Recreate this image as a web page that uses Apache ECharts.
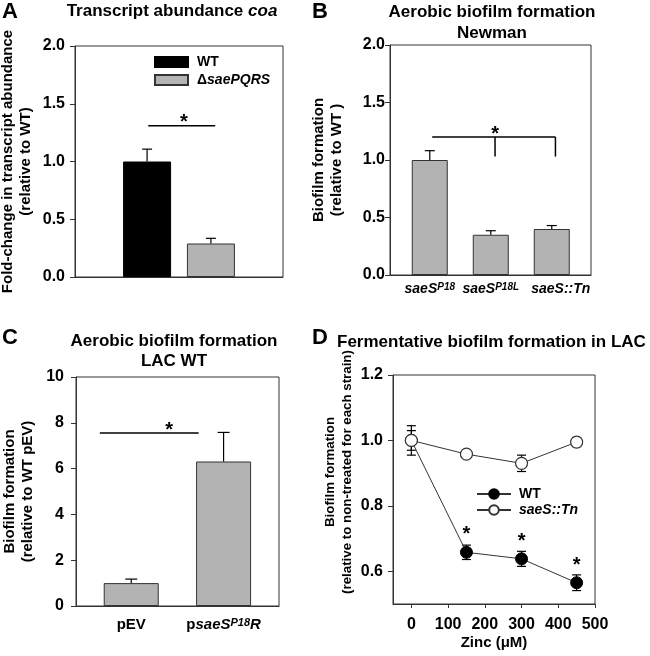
<!DOCTYPE html>
<html><head><meta charset="utf-8">
<script src="https://cdn.jsdelivr.net/npm/echarts@6/dist/echarts.min.js"></script>
<style>html,body{margin:0;padding:0;background:#fff}#c{width:650px;height:656px}</style>
</head><body><div id="c"></div>
<script>
const FONT = '"Liberation Sans", Arial, Helvetica, sans-serif';

// ---------- Panel A: Transcript abundance coa ----------
const aCategories = ['coa'];
const aSeriesNames = ['WT', 'ΔsaePQRS'];
const aValues = [1.00, 0.29];
const aErrors = [0.107, 0.045];
const aYTicks = [0, 0.5, 1.0, 1.5, 2.0];
const aSigLines = [[-0.148, 1.31, 0.174, 1.31]];
const aStars = [[0.023, 1.31]];

// ---------- Panel B: Aerobic biofilm formation Newman ----------
const bCategories = ['saeS^P18', 'saeS^P18L', 'saeS::Tn'];
const bValues = [1.00, 0.35, 0.40];
const bErrors = [0.081, 0.035, 0.03];
const bYTicks = [0, 0.5, 1.0, 1.5, 2.0];
const bXRange = [-0.652, 2.643];
const bSigLines = [[0.04, 1.2, 2.06, 1.2], [1.07, 1.2, 1.07, 1.03], [2.06, 1.2, 2.06, 1.03]];
const bStars = [[1.07, 1.2]];

// ---------- Panel C: Aerobic biofilm formation LAC WT ----------
const cCategories = ['pEV', 'psaeS^P18R'];
const cValues = [1.0, 6.31];
const cErrors = [0.175, 1.27];
const cYTicks = [0, 2, 4, 6, 8, 10];
const cXRange = [-0.598, 1.6];
const cSigLines = [[-0.34, 7.55, 0.73, 7.55]];
const cStars = [[0.41, 7.55]];

// ---------- Panel D: Fermentative biofilm formation in LAC ----------
const dZinc = [0, 150, 300, 450];
const dWT = [1.0, 0.658, 0.638, 0.565];
const dWTErr = [0.03, 0.022, 0.023, 0.024];
const dTn = [1.0, 0.958, 0.930, 0.995];
const dTnErr = [0.045, 0.008, 0.025, 0.014];
const dWTSig = ['', '*', '*', '*'];
const dXTicks = [0, 100, 200, 300, 400, 500];
const dYTicks = [0.6, 0.8, 1.0, 1.2];
const dSeriesNames = ['WT', 'saeS::Tn'];

// ---------- helpers ----------
const AX = '#333';
const txt = (size, extra) => Object.assign({fontFamily: FONT, fontWeight: 'bold', fontSize: size, color: '#000'}, extra || {});
const richIt = (size) => ({
  it: txt(size, {fontStyle: 'italic'}),
  itr: txt(size, {fontStyle: 'italic', padding: [0, 0, 0, 18]}),
  sup: txt(Math.round(size * 0.7), {fontStyle: 'italic', verticalAlign: 'top'}),
  n: txt(size)
});

function fmtLabel(v) {
  let pre = '';
  let s = v;
  if (s.startsWith('psae')) { pre = '{n|p}'; s = s.slice(1); }
  if (s.indexOf('^') < 0) {
    if (s.indexOf('::') > 0) return '{itr|' + s + '}';
    return s.indexOf('sae') === 0 ? pre + '{it|' + s + '}' : '{n|' + s + '}';
  }
  const [base, rest] = s.split('^');
  const m = rest.match(/^(P\d+L?)(.*)$/);
  return pre + '{it|' + base + '}{sup|' + m[1] + '}' + (m[2] ? '{it|' + m[2] + '}' : '');
}

function errorBars(offsetPx, capHalf, both) {
  return function (params, api) {
    const x = api.value(0), v = api.value(1), e = api.value(2);
    const pTop = api.coord([x, v + e]);
    const pBot = api.coord([x, both ? v - e : v]);
    const cx = pTop[0] + offsetPx;
    const st = () => ({stroke: '#000', lineWidth: 1.2});
    const kids = [
      {type: 'line', shape: {x1: cx, y1: pTop[1], x2: cx, y2: pBot[1]}, style: st()},
      {type: 'line', shape: {x1: cx - capHalf, y1: pTop[1], x2: cx + capHalf, y2: pTop[1]}, style: st()}
    ];
    if (both) kids.push({type: 'line', shape: {x1: cx - capHalf, y1: pBot[1], x2: cx + capHalf, y2: pBot[1]}, style: st()});
    return {type: 'group', children: kids};
  };
}
function sigLineRender(params, api) {
  const p1 = api.coord([api.value(0), api.value(1)]);
  const p2 = api.coord([api.value(2), api.value(3)]);
  return {type: 'line', shape: {x1: p1[0], y1: p1[1], x2: p2[0], y2: p2[1]}, style: {stroke: '#000', lineWidth: 1.5}};
}
function starRender(params, api) {
  const p = api.coord([api.value(0), api.value(1)]);
  return {type: 'text', x: p[0], y: p[1] - 3, style: {text: '*', fontSize: 20, fontWeight: 'bold', fontFamily: FONT, fill: '#000', align: 'center', verticalAlign: 'middle'}};
}

function valueYAxis(gridIndex, ticks, decimals, margin, name, nameGap) {
  return {
    gridIndex, type: 'value', min: ticks[0], max: ticks[ticks.length - 1],
    interval: ticks[1] - ticks[0],
    axisLine: {show: true, onZero: false, lineStyle: {color: AX, width: 1}},
    axisTick: {show: true, inside: false, length: 5, lineStyle: {color: AX}},
    axisLabel: Object.assign(txt(16), {margin, formatter: v => v.toFixed(decimals)}),
    splitLine: {show: false},
    name, nameLocation: 'middle', nameGap,
    nameTextStyle: txt(15, {lineHeight: 18})
  };
}
function catValueX(gridIndex, range, cats, margin, size) {
  const idx = cats.map((c, i) => i);
  return {
    gridIndex, type: 'value', min: range[0], max: range[1],
    axisLine: {show: true, onZero: false, lineStyle: {color: AX}},
    axisTick: {show: false},
    axisLabel: Object.assign(txt(size), {margin, customValues: idx, formatter: v => fmtLabel(cats[Math.round(v)]), rich: richIt(size)}),
    splitLine: {show: false}
  };
}

const gridBase = {show: true, borderColor: AX, borderWidth: 1, backgroundColor: 'transparent', containLabel: false, outerBoundsMode: 'none'};

const A_BAR_W = 48, A_BAR_GAP = 0.33;
const aOffset = (A_BAR_W + A_BAR_W * A_BAR_GAP) / 2;

const option = {
  animation: false,
  backgroundColor: '#fff',
  title: [
    {text: 'A', left: 2, top: 1, padding: 0, textStyle: txt(22)},
    {text: 'Transcript abundance {it|coa}', left: 172, top: 3, textAlign: 'center', padding: 0, textStyle: Object.assign(txt(17), {rich: {it: txt(17, {fontStyle: 'italic'})}})},
    {text: 'B', left: 312, top: 1, padding: 0, textStyle: txt(22)},
    {text: 'Aerobic biofilm formation\nNewman', left: 492, top: 2, textAlign: 'center', padding: 0, textStyle: txt(17, {lineHeight: 21})},
    {text: 'C', left: 2, top: 327, padding: 0, textStyle: txt(22)},
    {text: 'Aerobic biofilm formation\nLAC WT', left: 174, top: 331, textAlign: 'center', padding: 0, textStyle: txt(17, {lineHeight: 20})},
    {text: 'D', left: 312, top: 327, padding: 0, textStyle: txt(22)}
  ],
  legend: [
    {
      data: aSeriesNames, left: 154, top: 55, orient: 'vertical', icon: 'rect',
      itemWidth: 33, itemHeight: 10, itemGap: 4, selectedMode: false, padding: 0,
      formatter: n => n === 'WT' ? 'WT' : '{n|Δ}{it|' + n.slice(1) + '}',
      textStyle: Object.assign(txt(14), {padding: [0, 0, 0, 4], rich: richIt(14)})
    },
    {
      data: ['WT_D', 'Tn_D'], left: 476, top: 487, orient: 'vertical',
      itemWidth: 34, itemHeight: 12, itemGap: 2, selectedMode: false, padding: 0,
      formatter: n => n === 'WT_D' ? dSeriesNames[0] : '{it|' + dSeriesNames[1] + '}',
      textStyle: Object.assign(txt(14), {padding: [0, 0, 0, 3], rich: richIt(14)})
    }
  ],
  grid: [
    Object.assign({left: 75, top: 46, width: 208, height: 231}, gridBase),
    Object.assign({left: 390, top: 45, width: 201, height: 230}, gridBase),
    Object.assign({left: 76, top: 377, width: 203, height: 229}, gridBase),
    Object.assign({left: 393, top: 375, width: 202, height: 229}, gridBase)
  ],
  xAxis: [
    {gridIndex: 0, type: 'category', data: aCategories, axisLine: {onZero: false, lineStyle: {color: AX}}, axisTick: {show: false}, axisLabel: {show: false}},
    catValueX(1, bXRange, bCategories, 7, 14),
    catValueX(2, cXRange, cCategories, 11, 15),
    {gridIndex: 3, type: 'value', min: -50, max: 500,
      axisLine: {show: true, onZero: false, lineStyle: {color: AX}},
      axisTick: {show: true, inside: false, length: 4, lineStyle: {color: AX}, customValues: dXTicks},
      axisLabel: Object.assign(txt(16), {margin: 13, customValues: dXTicks, formatter: v => String(v)}),
      splitLine: {show: false},
      name: 'Zinc (μM)', nameLocation: 'middle', nameGap: 31, nameTextStyle: txt(15)},
    {gridIndex: 0, type: 'value', min: -0.5, max: 0.5, show: false, axisLine: {onZero: false}}
  ],
  yAxis: [
    valueYAxis(0, aYTicks, 1, 10, 'Fold-change in transcript abundance\n(relative to WT)', 40),
    valueYAxis(1, bYTicks, 1, 5, 'Biofilm formation\n(relative to WT )', 44),
    valueYAxis(2, cYTicks, 0, 12, 'Biofilm formation\n(relative to WT pEV)', 39),
    {
      gridIndex: 3, type: 'value', min: 0.5, max: 1.2,
      axisLine: {show: true, onZero: false, lineStyle: {color: AX}},
      axisTick: {show: true, inside: false, length: 5, lineStyle: {color: AX}, customValues: dYTicks},
      axisLabel: Object.assign(txt(16), {margin: 10, customValues: dYTicks, formatter: v => v.toFixed(1)}),
      splitLine: {show: false}
    }
  ],
  graphic: [
    {type: 'text', left: 337, top: 334, z: 100,
      style: {text: 'Fermentative biofilm formation in LAC', font: 'bold 17px ' + FONT, fill: '#000'}},
    {type: 'text', x: 339, y: 472, rotation: Math.PI / 2,
      style: {text: 'Biofilm formation\n(relative to non-treated for each strain)', font: 'bold 13.3px ' + FONT, fill: '#000', align: 'center', verticalAlign: 'middle', lineHeight: 17}}
  ],
  series: [
    // Panel A
    {type: 'bar', name: aSeriesNames[0], xAxisIndex: 0, yAxisIndex: 0, data: [aValues[0]], barWidth: A_BAR_W, barGap: (A_BAR_GAP * 100) + '%',
      itemStyle: {color: '#000', borderColor: '#000', borderWidth: 1}, silent: true},
    {type: 'bar', name: aSeriesNames[1], xAxisIndex: 0, yAxisIndex: 0, data: [aValues[1]], barWidth: A_BAR_W, barGap: (A_BAR_GAP * 100) + '%',
      itemStyle: {color: '#b3b3b3', borderColor: '#333', borderWidth: 1}, silent: true},
    {type: 'custom', xAxisIndex: 0, yAxisIndex: 0, data: [[0, aValues[0], aErrors[0]]], renderItem: errorBars(-aOffset, 5, false), silent: true, clip: false, z: 3},
    {type: 'custom', xAxisIndex: 0, yAxisIndex: 0, data: [[0, aValues[1], aErrors[1]]], renderItem: errorBars(aOffset, 5, false), silent: true, clip: false, z: 3},
    {type: 'custom', xAxisIndex: 4, yAxisIndex: 0, data: aSigLines, renderItem: sigLineRender, silent: true, clip: false, z: 3},
    {type: 'custom', xAxisIndex: 4, yAxisIndex: 0, data: aStars, renderItem: starRender, silent: true, clip: false, z: 3},
    // Panel B
    {type: 'bar', name: 'B', xAxisIndex: 1, yAxisIndex: 1, data: bValues.map((v, i) => [i, v]), barWidth: 36,
      itemStyle: {color: '#b3b3b3', borderColor: '#333', borderWidth: 1}, silent: true},
    {type: 'custom', xAxisIndex: 1, yAxisIndex: 1, data: bValues.map((v, i) => [i, v, bErrors[i]]), renderItem: errorBars(0, 5, false), silent: true, clip: false, z: 3},
    {type: 'custom', xAxisIndex: 1, yAxisIndex: 1, data: bSigLines, renderItem: sigLineRender, silent: true, clip: false, z: 3},
    {type: 'custom', xAxisIndex: 1, yAxisIndex: 1, data: bStars, renderItem: starRender, silent: true, clip: false, z: 3},
    // Panel C
    {type: 'bar', name: 'C', xAxisIndex: 2, yAxisIndex: 2, data: cValues.map((v, i) => [i, v]), barWidth: 55,
      itemStyle: {color: '#b3b3b3', borderColor: '#333', borderWidth: 1}, silent: true},
    {type: 'custom', xAxisIndex: 2, yAxisIndex: 2, data: cValues.map((v, i) => [i, v, cErrors[i]]), renderItem: errorBars(0, 6, false), silent: true, clip: false, z: 3},
    {type: 'custom', xAxisIndex: 2, yAxisIndex: 2, data: cSigLines, renderItem: sigLineRender, silent: true, clip: false, z: 3},
    {type: 'custom', xAxisIndex: 2, yAxisIndex: 2, data: cStars, renderItem: starRender, silent: true, clip: false, z: 3},
    // Panel D
    {type: 'custom', xAxisIndex: 3, yAxisIndex: 3, data: dZinc.map((x, i) => [x, dWT[i], dWTErr[i]]), renderItem: errorBars(0, 4.5, true), silent: true, clip: false, z: 1},
    {type: 'custom', xAxisIndex: 3, yAxisIndex: 3, data: dZinc.map((x, i) => [x, dTn[i], dTnErr[i]]), renderItem: errorBars(0, 4.5, true), silent: true, clip: false, z: 1},
    {type: 'line', name: 'WT_D', xAxisIndex: 3, yAxisIndex: 3, data: dZinc.map((x, i) => [x, dWT[i]]),
      symbol: 'circle', symbolSize: 12, showAllSymbol: true,
      itemStyle: {color: '#000', borderColor: '#000', borderWidth: 1},
      lineStyle: {color: '#333', width: 1},
      label: {show: true, position: 'top', distance: 1, formatter: p => dWTSig[p.dataIndex], fontSize: 20, fontWeight: 'bold', fontFamily: FONT, color: '#000'},
      silent: true, z: 3},
    {type: 'line', name: 'Tn_D', xAxisIndex: 3, yAxisIndex: 3, data: dZinc.map((x, i) => [x, dTn[i]]),
      symbol: 'circle', symbolSize: 12, showAllSymbol: true,
      itemStyle: {color: '#fff', borderColor: '#333', borderWidth: 1.2},
      lineStyle: {color: '#333', width: 1},
      silent: true, z: 4}
  ]
};

const chart = echarts.init(document.getElementById('c'), null, {renderer: 'canvas'});
chart.setOption(option);
</script>
</body></html>
